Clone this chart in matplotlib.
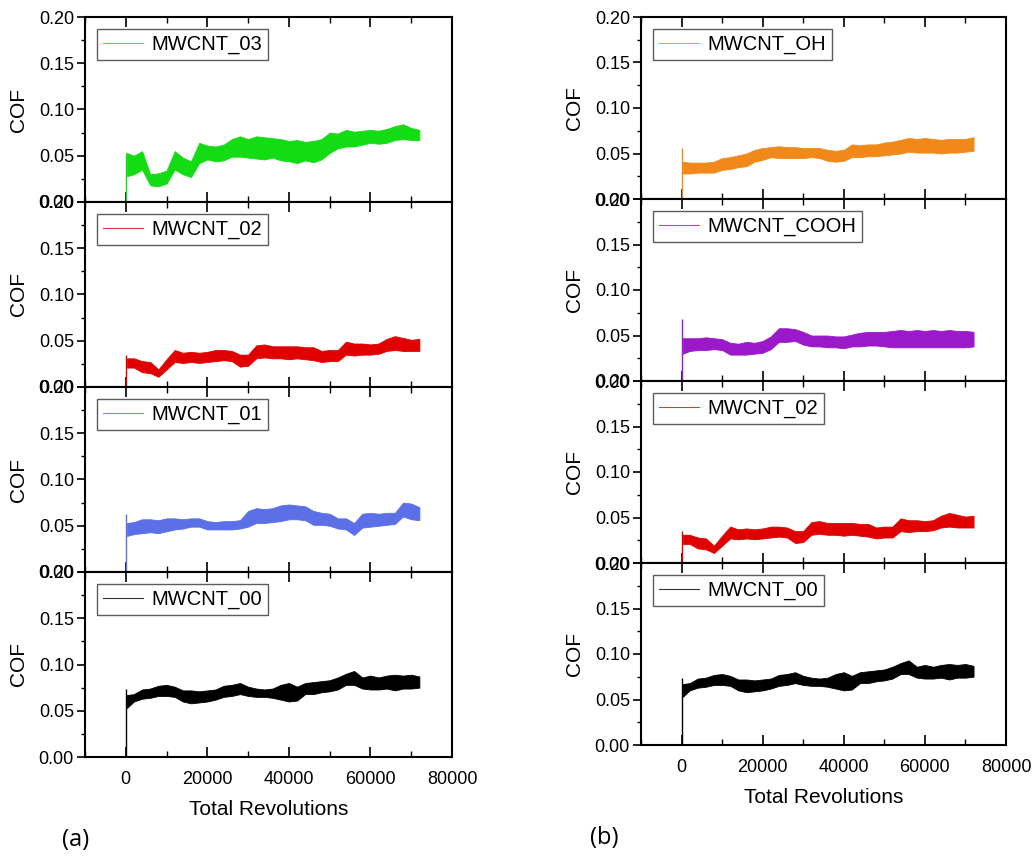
import numpy as np
import matplotlib
matplotlib.use("Agg")
import matplotlib.pyplot as plt
from matplotlib.ticker import MultipleLocator, FormatStrFormatter

plt.rcParams['font.family'] = ['Liberation Sans', 'DejaVu Sans']

# -------------------------------
# Data (band of the noisy COF trace, every 2000 rev)
# -------------------------------
revs = [300, 2000, 4000, 6000, 8000, 10000, 12000, 14000, 16000, 18000,
        20000, 22000, 24000, 26000, 28000, 30000, 32000, 34000, 36000, 38000,
        40000, 42000, 44000, 46000, 48000, 50000, 52000, 54000, 56000, 58000,
        60000, 62000, 64000, 66000, 68000, 70000, 72000]

cnt03_lo = [.028, .030, .035, .018, .017, .020, .035, .030, .027, .042,
            .046, .044, .045, .049, .049, .048, .047, .046, .048, .045,
            .044, .042, .045, .043, .046, .053, .058, .060, .060, .062,
            .064, .063, .064, .067, .068, .067, .067]
cnt03_hi = [.053, .050, .055, .030, .031, .034, .055, .048, .044, .064,
            .061, .060, .062, .068, .071, .068, .071, .070, .069, .068,
            .066, .067, .065, .066, .068, .075, .074, .078, .076, .077,
            .078, .077, .079, .082, .084, .080, .078]

cnt02_lo = [.021, .021, .016, .015, .011, .019, .027, .026, .027, .026,
            .027, .028, .029, .028, .022, .023, .031, .032, .031, .031,
            .030, .031, .030, .029, .027, .028, .028, .035, .034, .035,
            .035, .036, .039, .040, .039, .039, .039]
cnt02_hi = [.031, .031, .028, .027, .019, .030, .040, .037, .038, .037,
            .038, .040, .040, .039, .035, .035, .045, .046, .044, .044,
            .044, .044, .043, .043, .039, .040, .040, .049, .047, .047,
            .046, .047, .052, .055, .053, .051, .052]

cnt01_lo = [.039, .041, .042, .043, .042, .044, .046, .047, .049, .049,
            .046, .046, .046, .046, .047, .049, .053, .053, .054, .055,
            .057, .057, .056, .051, .051, .050, .047, .046, .040, .048,
            .049, .050, .051, .052, .060, .057, .056]
cnt01_hi = [.053, .054, .057, .057, .056, .058, .058, .057, .058, .058,
            .055, .054, .055, .055, .056, .066, .069, .068, .069, .072,
            .073, .072, .071, .066, .064, .063, .058, .058, .053, .063,
            .064, .063, .064, .064, .075, .074, .070]

cnt00_lo = [.053, .060, .063, .064, .066, .066, .065, .060, .058, .059,
            .060, .062, .065, .066, .068, .066, .065, .065, .064, .062,
            .060, .061, .068, .068, .070, .071, .073, .078, .078, .074,
            .073, .073, .074, .072, .074, .074, .075]
cnt00_hi = [.067, .068, .073, .074, .077, .078, .076, .072, .072, .071,
            .072, .073, .077, .078, .080, .076, .074, .073, .074, .078,
            .080, .076, .080, .081, .082, .083, .086, .090, .093, .086,
            .088, .086, .088, .089, .088, .089, .087]

cntoh_lo = [.028, .028, .029, .029, .029, .032, .033, .035, .036, .041,
            .043, .046, .045, .045, .045, .045, .046, .045, .042, .041,
            .042, .046, .046, .047, .047, .048, .049, .050, .052, .051,
            .051, .051, .050, .051, .051, .052, .053]
cntoh_hi = [.041, .040, .040, .040, .041, .045, .046, .048, .050, .054,
            .056, .057, .058, .057, .057, .056, .056, .056, .054, .053,
            .054, .060, .059, .060, .060, .062, .063, .065, .067, .066,
            .067, .066, .065, .066, .066, .066, .068]

cntcooh_lo = [.030, .033, .034, .034, .035, .034, .029, .029, .029, .030,
              .031, .035, .043, .043, .044, .040, .038, .038, .037, .037,
              .036, .038, .038, .039, .039, .038, .037, .037, .037, .037,
              .037, .037, .037, .037, .037, .037, .038]
cntcooh_hi = [.047, .047, .047, .048, .047, .046, .042, .041, .043, .042,
              .044, .049, .058, .058, .057, .054, .050, .050, .050, .049,
              .049, .051, .053, .054, .054, .054, .055, .056, .055, .056,
              .055, .056, .055, .056, .055, .055, .054]

# start-up spike at 0 rev
spike = {"03": .053, "02": .035, "01": .063, "00": .074, "OH": .056, "COOH": .068}

left_col = [("MWCNT_03", "03", cnt03_lo, cnt03_hi, '#14dc14'),
            ("MWCNT_02", "02", cnt02_lo, cnt02_hi, '#e00000'),
            ("MWCNT_01", "01", cnt01_lo, cnt01_hi, '#5b6fe6'),
            ("MWCNT_00", "00", cnt00_lo, cnt00_hi, '#000000')]
right_col = [("MWCNT_OH", "OH", cntoh_lo, cntoh_hi, '#f0891a'),
             ("MWCNT_COOH", "COOH", cntcooh_lo, cntcooh_hi, '#9b19c8'),
             ("MWCNT_02", "02", cnt02_lo, cnt02_hi, '#e00000'),
             ("MWCNT_00", "00", cnt00_lo, cnt00_hi, '#000000')]

fig = plt.figure(figsize=(10.32, 8.65), dpi=100)
W, H = 1032, 865


def panel(left, top, width, height, label, key, lo, hi, color, bottom_axis):
    ax = fig.add_axes([left / W, 1 - (top + height) / H, width / W, height / H])
    ax.fill_between(revs, lo, hi, color=color, linewidth=0.6)
    ax.vlines(0, 0, spike[key], color=color, linewidth=1)
    ax.plot([], [], color=color, linewidth=0.8, alpha=0.8, label=label)
    ax.set_xlim(-10000, 80000)
    ax.set_ylim(0, 0.20)
    ax.xaxis.set_major_locator(MultipleLocator(20000))
    ax.xaxis.set_minor_locator(MultipleLocator(10000))
    ax.yaxis.set_major_locator(MultipleLocator(0.05))
    ax.yaxis.set_minor_locator(MultipleLocator(0.025))
    ax.yaxis.set_major_formatter(FormatStrFormatter('%.2f'))
    ax.tick_params(axis='y', which='major', direction='out', length=6, width=1.2, labelsize=13, pad=2)
    ax.tick_params(axis='y', which='minor', direction='out', length=3, width=1)
    ax.tick_params(axis='x', which='major', direction='in', length=7, width=1.2,
                   top=True, labelsize=13, labelbottom=bottom_axis, pad=10)
    ax.tick_params(axis='x', which='minor', direction='in', length=4, width=1, top=True)
    for s in ax.spines.values():
        s.set_linewidth(1.5)
    ax.set_ylabel("COF", fontsize=15, labelpad=8)
    leg = ax.legend(loc='upper left', fontsize=14.5, handlelength=2.0, frameon=True,
                    fancybox=False, borderpad=0.3, borderaxespad=0.6, handletextpad=0.4)
    leg.get_frame().set_edgecolor('#333333')
    leg.get_frame().set_linewidth(1.0)
    if bottom_axis:
        ax.set_xlabel("Total Revolutions", fontsize=15, labelpad=9)
    return ax


for i, (label, key, lo, hi, color) in enumerate(left_col):
    panel(85, 17 + 185 * i, 367, 185, label, key, lo, hi, color, i == 3)

for i, (label, key, lo, hi, color) in enumerate(right_col):
    panel(641, 17 + 182 * i, 365, 182, label, key, lo, hi, color, i == 3)

fig.text(62 / W, 1 - 840 / H, "(a)", fontsize=17, family='Open Sans', va='center')
fig.text(590 / W, 1 - 838 / H, "(b)", fontsize=17, family='Open Sans', va='center')

fig.savefig("out.png", dpi=100)
